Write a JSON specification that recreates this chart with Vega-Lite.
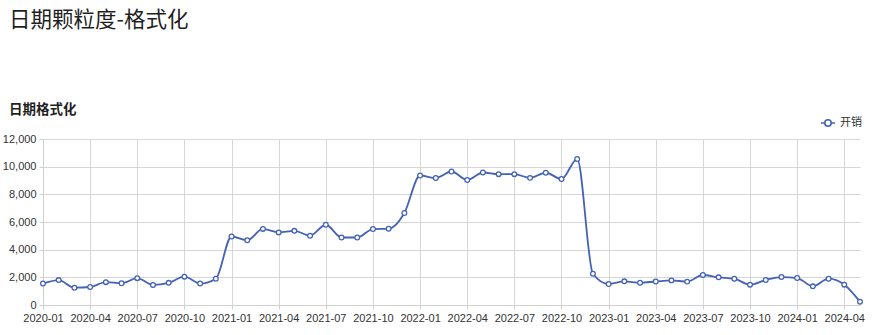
{
  "$schema": "https://vega.github.io/schema/vega-lite/v6.json",
  "width": 817,
  "height": 166,
  "autosize": {"type": "none"},
  "padding": {"left": 43, "top": 139, "right": 12, "bottom": 30},
  "background": "#ffffff",
  "config": {
    "font": "'Liberation Sans', 'Noto Sans CJK SC', sans-serif",
    "view": {"stroke": null}
  },
  "title": {
    "text": "日期颗粒度-格式化",
    "subtitle": "日期格式化",
    "anchor": "start",
    "frame": "group",
    "dx": -34,
    "font": "'Noto Sans CJK SC', sans-serif",
    "fontSize": 21.5,
    "fontWeight": "normal",
    "color": "#1f1f1f",
    "subtitleFont": "'Noto Sans CJK SC', sans-serif",
    "subtitleFontSize": 13.5,
    "subtitleFontWeight": "bold",
    "subtitleColor": "#1f1f1f",
    "subtitlePadding": 71,
    "offset": -1
  },
  "data": {
    "values": [
      {"month": "2020-01", "value": 1550, "series": "开销"},
      {"month": "2020-02", "value": 1800, "series": "开销"},
      {"month": "2020-03", "value": 1250, "series": "开销"},
      {"month": "2020-04", "value": 1300, "series": "开销"},
      {"month": "2020-05", "value": 1650, "series": "开销"},
      {"month": "2020-06", "value": 1570, "series": "开销"},
      {"month": "2020-07", "value": 1940, "series": "开销"},
      {"month": "2020-08", "value": 1450, "series": "开销"},
      {"month": "2020-09", "value": 1600, "series": "开销"},
      {"month": "2020-10", "value": 2050, "series": "开销"},
      {"month": "2020-11", "value": 1550, "series": "开销"},
      {"month": "2020-12", "value": 1900, "series": "开销"},
      {"month": "2021-01", "value": 4950, "series": "开销"},
      {"month": "2021-02", "value": 4680, "series": "开销"},
      {"month": "2021-03", "value": 5500, "series": "开销"},
      {"month": "2021-04", "value": 5250, "series": "开销"},
      {"month": "2021-05", "value": 5360, "series": "开销"},
      {"month": "2021-06", "value": 5010, "series": "开销"},
      {"month": "2021-07", "value": 5800, "series": "开销"},
      {"month": "2021-08", "value": 4880, "series": "开销"},
      {"month": "2021-09", "value": 4880, "series": "开销"},
      {"month": "2021-10", "value": 5490, "series": "开销"},
      {"month": "2021-11", "value": 5510, "series": "开销"},
      {"month": "2021-12", "value": 6650, "series": "开销"},
      {"month": "2022-01", "value": 9360, "series": "开销"},
      {"month": "2022-02", "value": 9180, "series": "开销"},
      {"month": "2022-03", "value": 9650, "series": "开销"},
      {"month": "2022-04", "value": 9040, "series": "开销"},
      {"month": "2022-05", "value": 9580, "series": "开销"},
      {"month": "2022-06", "value": 9460, "series": "开销"},
      {"month": "2022-07", "value": 9460, "series": "开销"},
      {"month": "2022-08", "value": 9190, "series": "开销"},
      {"month": "2022-09", "value": 9560, "series": "开销"},
      {"month": "2022-10", "value": 9110, "series": "开销"},
      {"month": "2022-11", "value": 10550, "series": "开销"},
      {"month": "2022-12", "value": 2260, "series": "开销"},
      {"month": "2023-01", "value": 1520, "series": "开销"},
      {"month": "2023-02", "value": 1710, "series": "开销"},
      {"month": "2023-03", "value": 1610, "series": "开销"},
      {"month": "2023-04", "value": 1700, "series": "开销"},
      {"month": "2023-05", "value": 1780, "series": "开销"},
      {"month": "2023-06", "value": 1690, "series": "开销"},
      {"month": "2023-07", "value": 2170, "series": "开销"},
      {"month": "2023-08", "value": 2000, "series": "开销"},
      {"month": "2023-09", "value": 1900, "series": "开销"},
      {"month": "2023-10", "value": 1470, "series": "开销"},
      {"month": "2023-11", "value": 1810, "series": "开销"},
      {"month": "2023-12", "value": 2020, "series": "开销"},
      {"month": "2024-01", "value": 1950, "series": "开销"},
      {"month": "2024-02", "value": 1350, "series": "开销"},
      {"month": "2024-03", "value": 1900, "series": "开销"},
      {"month": "2024-04", "value": 1470, "series": "开销"},
      {"month": "2024-05", "value": 240, "series": "开销"}
    ]
  },
  "encoding": {
    "x": {
      "field": "month",
      "type": "ordinal",
      "sort": null,
      "scale": {"type": "point", "padding": 0},
      "axis": {
        "title": null,
        "labelAngle": 0,
        "values": ["2020-01","2020-04","2020-07","2020-10","2021-01","2021-04","2021-07","2021-10","2022-01","2022-04","2022-07","2022-10","2023-01","2023-04","2023-07","2023-10","2024-01","2024-04"],
        "grid": true,
        "gridColor": "#d6d6d6",
        "gridWidth": 1,
        "domainColor": "#cfcfcf",
        "tickColor": "#cfcfcf",
        "tickSize": 4,
        "labelColor": "#333333",
        "labelFontSize": 11,
        "labelPadding": 3,
        "labelFont": "'Liberation Sans', sans-serif"
      }
    },
    "y": {
      "field": "value",
      "type": "quantitative",
      "scale": {"domain": [0, 12000], "nice": false},
      "axis": {
        "title": null,
        "values": [0, 2000, 4000, 6000, 8000, 10000, 12000],
        "format": ",.0f",
        "grid": true,
        "gridColor": "#d6d6d6",
        "domain": true,
        "domainColor": "#cfcfcf",
        "tickColor": "#cfcfcf",
        "tickSize": 4,
        "labelColor": "#333333",
        "labelFontSize": 11,
        "labelPadding": 3,
        "labelFont": "'Liberation Sans', sans-serif"
      }
    },
    "color": {
      "field": "series",
      "type": "nominal",
      "scale": {"range": ["#4462b6"]},
      "legend": {
        "title": null,
        "orient": "none",
        "legendX": 777,
        "legendY": -24,
        "symbolType": "M-1,0L-0.45,0M0.45,0L1,0M0.45,0A0.45,0.45 0 1,1 -0.45,0A0.45,0.45 0 1,1 0.45,0",
        "symbolSize": 200,
        "symbolStrokeWidth": 1.6,
        "symbolFillColor": "#ffffff",
        "labelFont": "'Noto Sans CJK SC', sans-serif",
        "labelFontSize": 11,
        "labelColor": "#333333",
        "labelOffset": 4
      }
    }
  },
  "layer": [
    {
      "mark": {"type": "line", "interpolate": "monotone", "strokeWidth": 1.8}
    },
    {
      "mark": {"type": "point", "filled": false, "fill": "#ffffff", "size": 22, "strokeWidth": 1.3, "opacity": 1}
    }
  ]
}
